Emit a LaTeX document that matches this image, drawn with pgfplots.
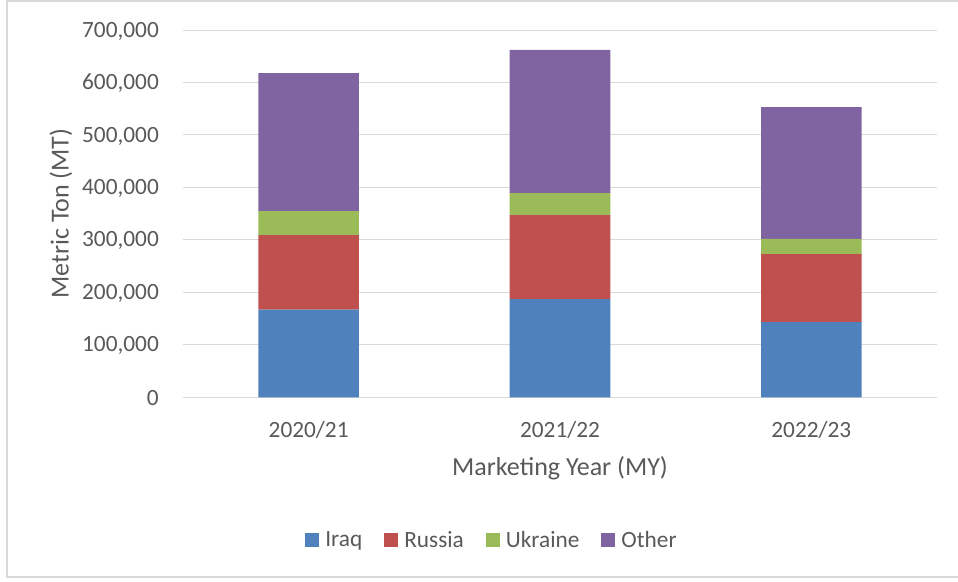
\documentclass[border=0pt]{standalone}
\usepackage{fontspec}
\setmainfont{Carlito}
\usepackage{pgfplots}
\pgfplotsset{compat=1.18}
\definecolor{iraq}{RGB}{79,129,189}
\definecolor{russia}{RGB}{192,80,77}
\definecolor{ukraine}{RGB}{155,187,89}
\definecolor{other}{RGB}{128,100,162}
\definecolor{gridc}{RGB}{217,217,217}
\definecolor{txt}{RGB}{89,89,89}
\begin{document}
\begin{tikzpicture}
\path[use as bounding box] (-183bp,-184.7bp) rectangle (775bp,397.3bp);
\draw[gridc, line width=2bp] (-176bp,-179.7bp) rectangle (792bp,396.3bp);
\begin{axis}[
  at={(0,0)}, anchor=south west,
  scale only axis, width=754bp, height=367.3bp,
  ybar stacked, bar width=0.4,
  xmin=-0.5, xmax=2.5, ymin=0, ymax=700000,
  xtick={0,1,2}, xticklabels={2020/21,2021/22,2022/23},
  ytick={0,100000,...,700000},
  scaled y ticks=false,
  /pgf/number format/.cd, fixed, 1000 sep={,}, assume math mode=true,
  /pgfplots/.cd,
  axis line style={draw=none},
  major tick length=0pt,
  ymajorgrids, grid style={gridc, line width=1bp},
  tick label style={font=\fontsize{23.3bp}{28bp}\selectfont, text=txt},
  xticklabel style={anchor=base, yshift=-40.4bp},
  yticklabel style={anchor=east, inner sep=0pt, xshift=-24bp, yshift=-1bp},
  xlabel={Marketing Year (MY)},
  ylabel={Metric Ton (MT)},
  label style={font=\fontsize{26bp}{31bp}\selectfont, text=txt},
  xlabel style={at={(axis description cs:0.5,0)}, anchor=base, yshift=-77.7bp},
  ylabel style={at={(axis description cs:-0.1618,0.5)}, anchor=center},
  legend columns=4,
  legend image code/.code={\fill[#1, draw=none] (0bp,-7bp) rectangle (14bp,7bp);},
  legend style={draw=none, fill=none, inner sep=0pt,
    font=\fontsize{23.3bp}{28bp}\selectfont, text=txt,
    at={(axis description cs:0.4085,0)}, anchor=center, yshift=-142.7bp,
    /tikz/every odd column/.append style={column sep=6bp},
    /tikz/every even column/.append style={column sep=22bp},
    nodes={inner sep=0pt}},
  legend cell align=left,
]
\addplot[fill=iraq, draw=none] coordinates {(0,167000) (1,187000) (2,143500)};
\addplot[fill=russia, draw=none] coordinates {(0,142000) (1,160000) (2,129500)};
\addplot[fill=ukraine, draw=none] coordinates {(0,46000) (1,42000) (2,29000)};
\addplot[fill=other, draw=none] coordinates {(0,263000) (1,273000) (2,251000)};
\legend{Iraq,Russia,Ukraine,Other}
\end{axis}
\end{tikzpicture}
\end{document}
